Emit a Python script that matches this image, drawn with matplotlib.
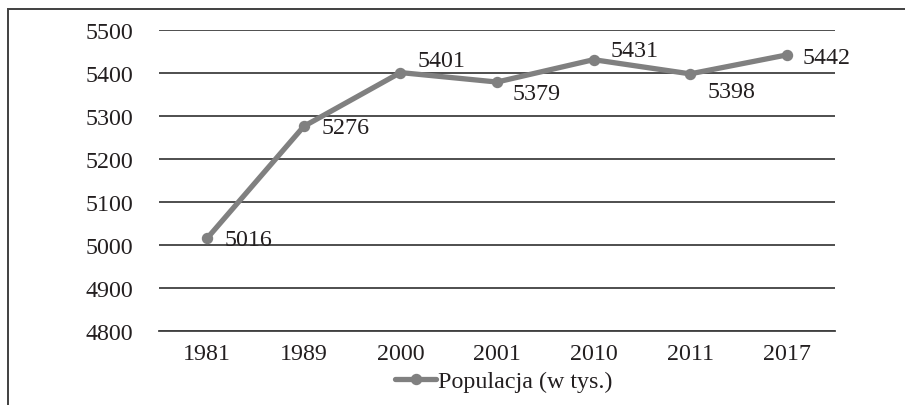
import matplotlib as mpl
import matplotlib.pyplot as plt
from matplotlib.patches import Rectangle

mpl.rcParams["font.family"] = ["Liberation Serif", "DejaVu Serif"]
mpl.rcParams["font.size"] = 17.3

years = ["1981", "1989", "2000", "2001", "2010", "2011", "2017"]
population = [5016, 5276, 5401, 5379, 5431, 5398, 5442]
series_label = "Populacja (w tys.)"
y_ticks = [4800, 4900, 5000, 5100, 5200, 5300, 5400, 5500]

# label nudges in pixels (right of point, up/down to avoid the line)
label_offsets = [(17, 1), (18, 1.5), (17, 14.5), (16, -8.5), (17, 12), (17, -15.5), (16, 0)]

TEXT = "#231f20"
GRID = "#404040"
LINE = "#808080"

fig = plt.figure(figsize=(9.05, 4.06), dpi=100)
ax = fig.add_axes([159 / 905, 1 - 332 / 406, (835 - 159) / 905, (332 - 31) / 406])

x = list(range(len(years)))
ax.plot(x, population, color=LINE, lw=3.8, marker="o", ms=7.2,
        solid_capstyle="round", label=series_label, zorder=3)

for xi, v, (dx, dy) in zip(x, population, label_offsets):
    ax.annotate(str(v), (xi, v), xytext=(dx, dy), textcoords="offset pixels",
                ha="left", va="center_baseline", color=TEXT, zorder=4)

ax.set_xlim(-0.5, len(years) - 0.5)
ax.set_ylim(y_ticks[0], y_ticks[-1])
ax.set_yticks(y_ticks)
ax.set_xticks(x)
ax.set_xticklabels(years)
ax.yaxis.grid(True, color=GRID, lw=1.3)
ax.set_axisbelow(True)
for s in ["top", "right", "left"]:
    ax.spines[s].set_visible(False)
ax.spines["bottom"].set_color(GRID)
ax.spines["bottom"].set_linewidth(1.3)
ax.tick_params(length=0, colors=TEXT)
ax.tick_params(axis="y", pad=18.5)
ax.tick_params(axis="x", pad=8.5)

fig.legend(loc="center", bbox_to_anchor=(504 / 905, 1 - 382 / 406), frameon=False,
           handlelength=1.7, handletextpad=0.1, labelcolor=TEXT)

# outer frame, cut by the right and bottom edges like the source
fig.patches.append(Rectangle((8 / 905, -0.1), 1.2, 1 - 10 / 406 + 0.1,
                             transform=fig.transFigure, fill=False,
                             edgecolor=GRID, lw=1.4))

fig.savefig("out.png", dpi=100)
